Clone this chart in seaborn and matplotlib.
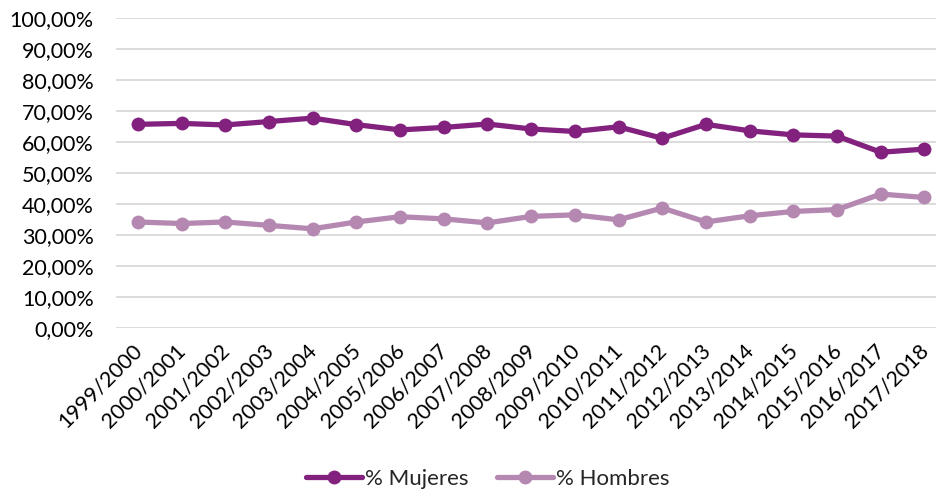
import matplotlib
matplotlib.use("Agg")
import matplotlib.pyplot as plt
import matplotlib.transforms as mtransforms
import seaborn as sns
import pandas as pd
from matplotlib.ticker import FuncFormatter, MultipleLocator

cursos = ["1999/2000", "2000/2001", "2001/2002", "2002/2003", "2003/2004",
          "2004/2005", "2005/2006", "2006/2007", "2007/2008", "2008/2009",
          "2009/2010", "2010/2011", "2011/2012", "2012/2013", "2013/2014",
          "2014/2015", "2015/2016", "2016/2017", "2017/2018"]
mujeres = [65.7, 66.0, 65.5, 66.6, 67.7, 65.6, 63.9, 64.7, 65.8, 64.2,
           63.4, 64.9, 61.2, 65.7, 63.6, 62.3, 61.9, 56.7, 57.7]
hombres = [34.2, 33.7, 34.2, 33.1, 32.0, 34.2, 35.9, 35.2, 33.9, 36.0,
           36.5, 34.9, 38.7, 34.2, 36.2, 37.6, 38.2, 43.2, 42.1]
series = ["% Mujeres", "% Hombres"]
colores = ["#82217e", "#b588b2"]

df = pd.DataFrame({
    "curso": cursos * 2,
    "idx": list(range(len(cursos))) * 2,
    "valor": mujeres + hombres,
    "serie": [series[0]] * len(cursos) + [series[1]] * len(cursos),
})

sns.set_theme(style="white")
plt.rcParams["font.family"] = ["Lato", "DejaVu Sans"]

fig = plt.figure(figsize=(9.36, 4.96), dpi=100)
ax = fig.add_axes([116 / 936, 1 - 328 / 496, 1 - 116 / 936, (328 - 18) / 496])

sns.lineplot(data=df, x="idx", y="valor", hue="serie", palette=colores,
             hue_order=series, marker="o", markersize=10, linewidth=3.8,
             markeredgewidth=0, ax=ax, legend=False, zorder=3)

ax.set_ylim(0, 100)
ax.set_xlim(-0.5, (936 - 116) / 43.7 - 0.5)
ax.yaxis.set_major_locator(MultipleLocator(10))
ax.yaxis.set_major_formatter(FuncFormatter(lambda v, p: f"{v:.2f}".replace(".", ",") + "%"))
ax.set_xticks(range(len(cursos)))
ax.set_xticklabels(cursos, rotation=45, ha="right", rotation_mode="anchor")
ax.tick_params(axis="both", labelsize=15.5, colors="#000000", length=0)
ax.tick_params(axis="y", pad=16)
ax.tick_params(axis="x", pad=9)
shift = mtransforms.ScaledTranslation(-6 / 100, 0, fig.dpi_scale_trans)
for lab in ax.get_xticklabels():
    lab.set_transform(lab.get_transform() + shift)
ax.grid(axis="y", color="#d9d9d9", linewidth=1.3, zorder=0)
ax.set_axisbelow(True)
for s in ax.spines.values():
    s.set_visible(False)
ax.set_xlabel("")
ax.set_ylabel("")

handles = [plt.Line2D([], [], color=c, marker="o", markersize=10, linewidth=3.8,
                      markeredgewidth=0) for c in colores]
fig.legend(handles, series, loc="center", bbox_to_anchor=(488 / 936, 1 - 479 / 496),
           ncol=2, frameon=False, fontsize=16, handlelength=2.5,
           handletextpad=0.15, columnspacing=1.3)

fig.savefig("out.png", dpi=100, facecolor="white")
